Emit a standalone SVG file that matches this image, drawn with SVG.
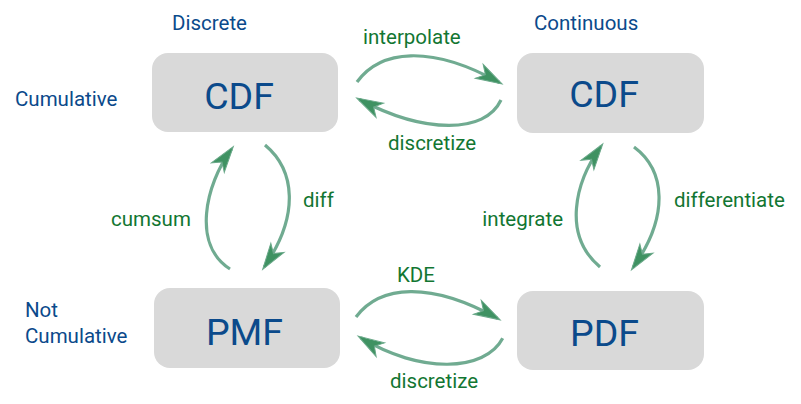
<svg xmlns="http://www.w3.org/2000/svg" width="801" height="404" viewBox="0 0 801 404">
<style>
.box{fill:#d9d9d9;}
.big{font-family:Roboto,"Liberation Sans",sans-serif;font-size:37.5px;fill:#0b4a8b;text-anchor:middle;}
.hdr{font-family:Roboto,"Liberation Sans",sans-serif;font-size:20.5px;fill:#0b4a8b;}
.lbl{font-family:Roboto,"Liberation Sans",sans-serif;font-size:20.5px;fill:#127632;}
.con{fill:none;stroke:#70ab91;stroke-width:3.2;marker-end:url(#ah);}
</style>
<defs>
<marker id="ah" markerUnits="userSpaceOnUse" viewBox="-28 -10 32 20" markerWidth="32" markerHeight="20" refX="-3" refY="0" orient="auto">
<path d="M0,0 L-26,-8 L-19,0 L-26,8 Z" fill="#3f9262" stroke="#6aa889" stroke-width="1" stroke-linejoin="miter"/>
</marker>
</defs>
<rect width="801" height="404" fill="#ffffff"/>
<g id="headers">
<text class="hdr" x="172" y="30">Discrete</text>
<text class="hdr" x="534" y="30">Continuous</text>
<text class="hdr" x="15" y="106">Cumulative</text>
<text class="hdr" x="25" y="317">Not</text>
<text class="hdr" x="25" y="343">Cumulative</text>
</g>
<g id="node-cdf-discrete">
<rect class="box" x="152" y="53" width="186" height="79" rx="16"/>
<text class="big" x="239" y="109">CDF</text>
</g>
<g id="node-cdf-continuous">
<rect class="box" x="517" y="53" width="187" height="80" rx="16"/>
<text class="big" x="604" y="107">CDF</text>
</g>
<g id="node-pmf">
<rect class="box" x="154" y="288" width="186" height="80" rx="16"/>
<text class="big" x="244.5" y="345">PMF</text>
</g>
<g id="node-pdf">
<rect class="box" x="517" y="291" width="187" height="79" rx="16"/>
<text class="big" x="604.5" y="346">PDF</text>
</g>
<g id="connectors">
<path class="con" d="M357,82 C380,50 430,44 499.4,82.5"/>
<path class="con" d="M501,100 C485,134 425,134 359.4,99.5"/>
<path class="con" d="M356,317 C380,285 430,281 497.5,318.4"/>
<path class="con" d="M502.7,338.3 C485,372 420,374 360.7,337.7"/>
<path class="con" d="M230,269 C192,245 205,185 231.5,149.1"/>
<path class="con" d="M265,145 C295,170 300,215 264.4,266.8"/>
<path class="con" d="M600,267 C562,235 575,182 601,146.4"/>
<path class="con" d="M634,147 C665,170 670,215 633.2,267.4"/>
<text class="lbl" x="363" y="44">interpolate</text>
<text class="lbl" x="388" y="150">discretize</text>
<text class="lbl" x="111" y="226">cumsum</text>
<text class="lbl" x="303" y="207">diff</text>
<text class="lbl" x="563" y="226" text-anchor="end">integrate</text>
<text class="lbl" x="674" y="207">differentiate</text>
<text class="lbl" x="397" y="282">KDE</text>
<text class="lbl" x="390" y="388">discretize</text>
</g>
</svg>
